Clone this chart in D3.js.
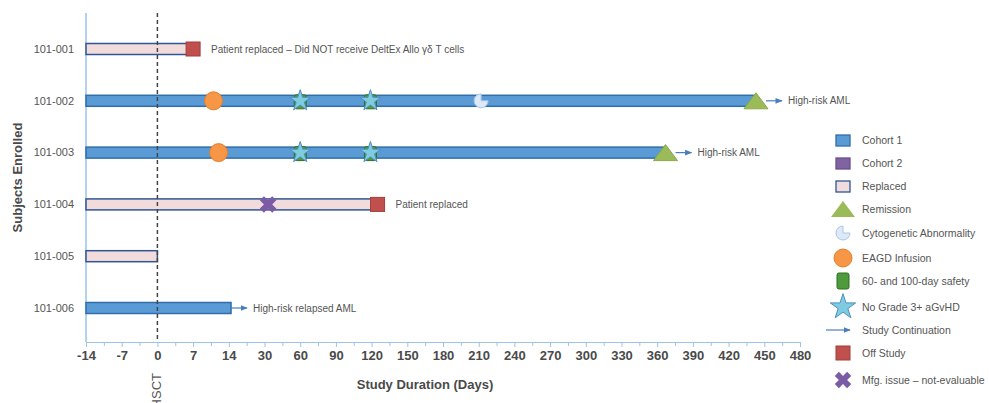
<!DOCTYPE html>
<html>
<head>
<meta charset="utf-8">
<script src="https://cdn.jsdelivr.net/npm/d3@7"></script>
<style>
  body { margin: 0; background: #fff; }
  svg { font-family: 'Liberation Sans', Arial, sans-serif; }
  .axis-x path, .axis-x line { stroke: #9dc3e6; }
  .axis-x text { font-size: 13px; font-weight: bold; fill: #4a4a4a; }
  .row-label { font-size: 11px; fill: #555; }
  .note { font-size: 10px; fill: #555; }
  .legend-text { font-size: 10.5px; fill: #555; }
</style>
</head>
<body>
<svg id="chart" width="989" height="403"></svg>
<script>
const subjects = ['101-001', '101-002', '101-003', '101-004', '101-005', '101-006'];
const cohorts = ['replaced', 'cohort1', 'cohort1', 'replaced', 'replaced', 'cohort1'];
const barEnd = [6, 443, 366, 121, 0, 15];
const tickValues = [-14, -7, 0, 7, 14, 30, 60, 90, 120, 150, 180, 210, 240, 270, 300, 330, 360, 390, 420, 450, 480];

const eagdInfusion = [
  { subject: '101-002', day: 11 },
  { subject: '101-003', day: 12 }
];
const noGvhd = [
  { subject: '101-002', day: 60 },
  { subject: '101-002', day: 119 },
  { subject: '101-003', day: 60 },
  { subject: '101-003', day: 119 }
];
const cytogenetic = [{ subject: '101-002', day: 212 }];
const remission = [
  { subject: '101-002', day: 443 },
  { subject: '101-003', day: 367 }
];
const offStudy = [
  { subject: '101-001', day: 7 },
  { subject: '101-004', day: 125 }
];
const mfgIssue = [{ subject: '101-004', day: 33 }];
const continuation = [
  { subject: '101-002', day: 443, label: 'High-risk AML' },
  { subject: '101-003', day: 367, label: 'High-risk AML' },
  { subject: '101-006', day: 15, label: 'High-risk relapsed AML' }
];
const notes = [
  { subject: '101-001', day: 7, label: 'Patient replaced \u2013 Did NOT receive DeltEx Allo \u03b3\u03b4 T cells' },
  { subject: '101-004', day: 125, label: 'Patient replaced' }
];
const legendItems = [
  'Cohort 1', 'Cohort 2', 'Replaced', 'Remission', 'Cytogenetic Abnormality',
  'EAGD Infusion', '60- and 100-day safety', 'No Grade 3+ aGvHD',
  'Study Continuation', 'Off Study', 'Mfg. issue \u2013 not-evaluable'
];

const colors = {
  cohort1: '#5b9bd5', cohort1Stroke: '#2f6eaa',
  cohort2: '#8064a2',
  replaced: '#f2dcdb', replacedStroke: '#2f5597',
  remission: '#9bbb59',
  cyto: '#dde9f6', cytoStroke: '#a9c8e8',
  eagd: '#f79646', eagdStroke: '#e0802e',
  safety: '#4f9a3c', safetyStroke: '#2f6d24',
  star: '#7fcbe2', starStroke: '#4f8fc0',
  arrow: '#4a7ebb',
  off: '#c0504d', offStroke: '#a33c39',
  mfg: '#7b5aa6'
};

const svg = d3.select('#chart');
const plotLeft = 86, plotRight = 800, plotTop = 13, plotBottom = 342;
const step = (plotRight - plotLeft) / (tickValues.length - 1);

const x = d3.scaleLinear()
  .domain(tickValues)
  .range(tickValues.map((d, i) => plotLeft + i * step));
const y = d3.scalePoint().domain(subjects).range([49, 308]);

const defs = svg.append('defs');
defs.append('marker')
  .attr('id', 'arrowhead')
  .attr('viewBox', '0 0 10 10')
  .attr('refX', 9).attr('refY', 5)
  .attr('markerWidth', 6).attr('markerHeight', 6)
  .attr('orient', 'auto')
  .append('path').attr('d', 'M0,1L10,5L0,9Z').attr('fill', colors.arrow);

// axes
const minorTicks = d3.pairs(tickValues).map(([a, b]) => (a + b) / 2);
svg.append('g').attr('class', 'axis-x minor')
  .attr('transform', `translate(0,${plotBottom})`)
  .call(d3.axisBottom(x).tickValues(minorTicks).tickSize(4).tickFormat(''))
  .call(g => g.select('.domain').remove());
svg.append('g').attr('class', 'axis-x')
  .attr('transform', `translate(0,${plotBottom})`)
  .call(d3.axisBottom(x).tickValues(tickValues).tickSize(5).tickSizeOuter(0).tickPadding(4)
    .tickFormat(d => String(d)))
  .call(g => g.select('.domain').attr('stroke-width', 1.2));

svg.append('line')
  .attr('x1', plotLeft).attr('x2', plotLeft).attr('y1', plotTop).attr('y2', plotBottom)
  .attr('stroke', '#9dc3e6').attr('stroke-width', 1.5);

svg.selectAll('.row-label').data(subjects).join('text')
  .attr('class', 'row-label')
  .attr('x', plotLeft - 12).attr('y', d => y(d)).attr('dy', '0.35em')
  .attr('text-anchor', 'end').text(d => d);

svg.append('text')
  .attr('transform', `translate(22,${(plotTop + plotBottom) / 2}) rotate(-90)`)
  .attr('text-anchor', 'middle')
  .attr('font-size', 13).attr('font-weight', 'bold').attr('fill', '#4a4a4a')
  .text('Subjects Enrolled');

svg.append('text')
  .attr('x', 425).attr('y', 389)
  .attr('text-anchor', 'middle')
  .attr('font-size', 13).attr('font-weight', 'bold').attr('fill', '#4a4a4a')
  .text('Study Duration (Days)');

// bars
const barH = 11;
svg.selectAll('.bar').data(subjects).join('rect')
  .attr('class', 'bar')
  .attr('x', x(-14))
  .attr('y', d => y(d) - barH / 2)
  .attr('width', (d, i) => x(barEnd[i]) - x(-14))
  .attr('height', barH)
  .attr('fill', (d, i) => colors[cohorts[i]])
  .attr('stroke', (d, i) => cohorts[i] === 'replaced' ? colors.replacedStroke : colors.cohort1Stroke)
  .attr('stroke-width', 1.5);

// HSCT line
svg.append('line')
  .attr('x1', x(0)).attr('x2', x(0)).attr('y1', plotTop).attr('y2', plotBottom)
  .attr('stroke', '#444').attr('stroke-width', 1.5).attr('stroke-dasharray', '4,3');
svg.append('text')
  .attr('transform', `translate(${x(0) + 4},373) rotate(-90)`)
  .attr('text-anchor', 'end')
  .attr('font-size', 13).attr('fill', '#555')
  .text('HSCT');

// symbol helpers
function triangle(w, h) {
  const p = d3.path();
  p.moveTo(0, -h / 2); p.lineTo(w / 2, h / 2); p.lineTo(-w / 2, h / 2); p.closePath();
  return p.toString();
}
const starPath = size => d3.symbol(d3.symbolStar, size)();
const cytoArc = r => d3.arc()({ innerRadius: 0, outerRadius: r, startAngle: Math.PI / 2, endAngle: 2 * Math.PI });
const crossPath = size => d3.symbol(d3.symbolCross, size)();

function drawSafety(g) {
  g.append('rect').attr('x', -6).attr('y', -6).attr('width', 12).attr('height', 14).attr('rx', 2)
    .attr('fill', colors.safety).attr('stroke', colors.safetyStroke);
}
function drawStar(g, size) {
  g.append('path').attr('d', starPath(size))
    .attr('fill', colors.star).attr('stroke', colors.starStroke).attr('stroke-width', 1);
}

// continuation arrows + labels
continuation.forEach(d => {
  const x0 = x(d.day) + (d.subject === '101-006' ? 0 : 10);
  svg.append('line')
    .attr('x1', x0).attr('x2', x0 + 16)
    .attr('y1', y(d.subject)).attr('y2', y(d.subject))
    .attr('stroke', colors.arrow).attr('stroke-width', 1.2)
    .attr('marker-end', 'url(#arrowhead)');
  svg.append('text').attr('class', 'note')
    .attr('x', x0 + 22).attr('y', y(d.subject)).attr('dy', '0.35em')
    .text(d.label);
});

notes.forEach(d => {
  svg.append('text').attr('class', 'note')
    .attr('x', x(d.day) + 18).attr('y', y(d.subject)).attr('dy', '0.35em')
    .text(d.label);
});

eagdInfusion.forEach(d => {
  svg.append('circle').attr('cx', x(d.day)).attr('cy', y(d.subject)).attr('r', 9)
    .attr('fill', colors.eagd).attr('stroke', colors.eagdStroke);
});

noGvhd.forEach(d => {
  const g = svg.append('g').attr('transform', `translate(${x(d.day)},${y(d.subject)})`);
  drawSafety(g);
  drawStar(g, 140);
});

cytogenetic.forEach(d => {
  svg.append('path').attr('d', cytoArc(7))
    .attr('transform', `translate(${x(d.day)},${y(d.subject)})`)
    .attr('fill', colors.cyto).attr('stroke', colors.cytoStroke);
});

remission.forEach(d => {
  svg.append('path').attr('d', triangle(24, 16))
    .attr('transform', `translate(${x(d.day)},${y(d.subject)})`)
    .attr('fill', colors.remission).attr('stroke', '#8aa84c');
});

offStudy.forEach(d => {
  svg.append('rect').attr('x', x(d.day) - 7).attr('y', y(d.subject) - 7)
    .attr('width', 14).attr('height', 14)
    .attr('fill', colors.off).attr('stroke', colors.offStroke);
});

mfgIssue.forEach(d => {
  svg.append('path').attr('d', crossPath(170))
    .attr('transform', `translate(${x(d.day)},${y(d.subject)}) rotate(45)`)
    .attr('fill', colors.mfg);
});

// legend
const legendY = [140, 163, 186, 209, 233, 258, 281, 307, 330, 353, 380];
const lx = 843;
const legend = svg.append('g');
legendItems.forEach((label, i) => {
  const g = legend.append('g').attr('transform', `translate(${lx},${legendY[i]})`);
  if (i === 0 || i === 1 || i === 2) {
    const fill = [colors.cohort1, colors.cohort2, colors.replaced][i];
    const stroke = [colors.cohort1Stroke, '#6a4f8c', colors.replacedStroke][i];
    g.append('rect').attr('x', -7).attr('y', -5).attr('width', 14).attr('height', 11)
      .attr('fill', fill).attr('stroke', stroke).attr('stroke-width', 1.3);
  } else if (i === 3) {
    g.append('path').attr('d', triangle(24, 16)).attr('fill', colors.remission);
  } else if (i === 4) {
    g.append('path').attr('d', cytoArc(7)).attr('fill', colors.cyto).attr('stroke', colors.cytoStroke);
  } else if (i === 5) {
    g.append('circle').attr('r', 9).attr('fill', colors.eagd).attr('stroke', colors.eagdStroke);
  } else if (i === 6) {
    g.append('rect').attr('x', -6).attr('y', -8).attr('width', 12).attr('height', 16).attr('rx', 2)
      .attr('fill', colors.safety).attr('stroke', colors.safetyStroke);
  } else if (i === 7) {
    drawStar(g, 200);
  } else if (i === 8) {
    g.append('line').attr('x1', -17).attr('x2', 7).attr('y1', 0).attr('y2', 0)
      .attr('stroke', colors.arrow).attr('stroke-width', 1.2)
      .attr('marker-end', 'url(#arrowhead)');
  } else if (i === 9) {
    g.append('rect').attr('x', -7).attr('y', -7).attr('width', 14).attr('height', 14)
      .attr('fill', colors.off).attr('stroke', colors.offStroke);
  } else {
    g.append('path').attr('d', crossPath(170)).attr('transform', 'rotate(45)').attr('fill', colors.mfg);
  }
  g.append('text').attr('class', 'legend-text')
    .attr('x', 19).attr('y', 0).attr('dy', '0.35em').text(label);
});
</script>
</body>
</html>
